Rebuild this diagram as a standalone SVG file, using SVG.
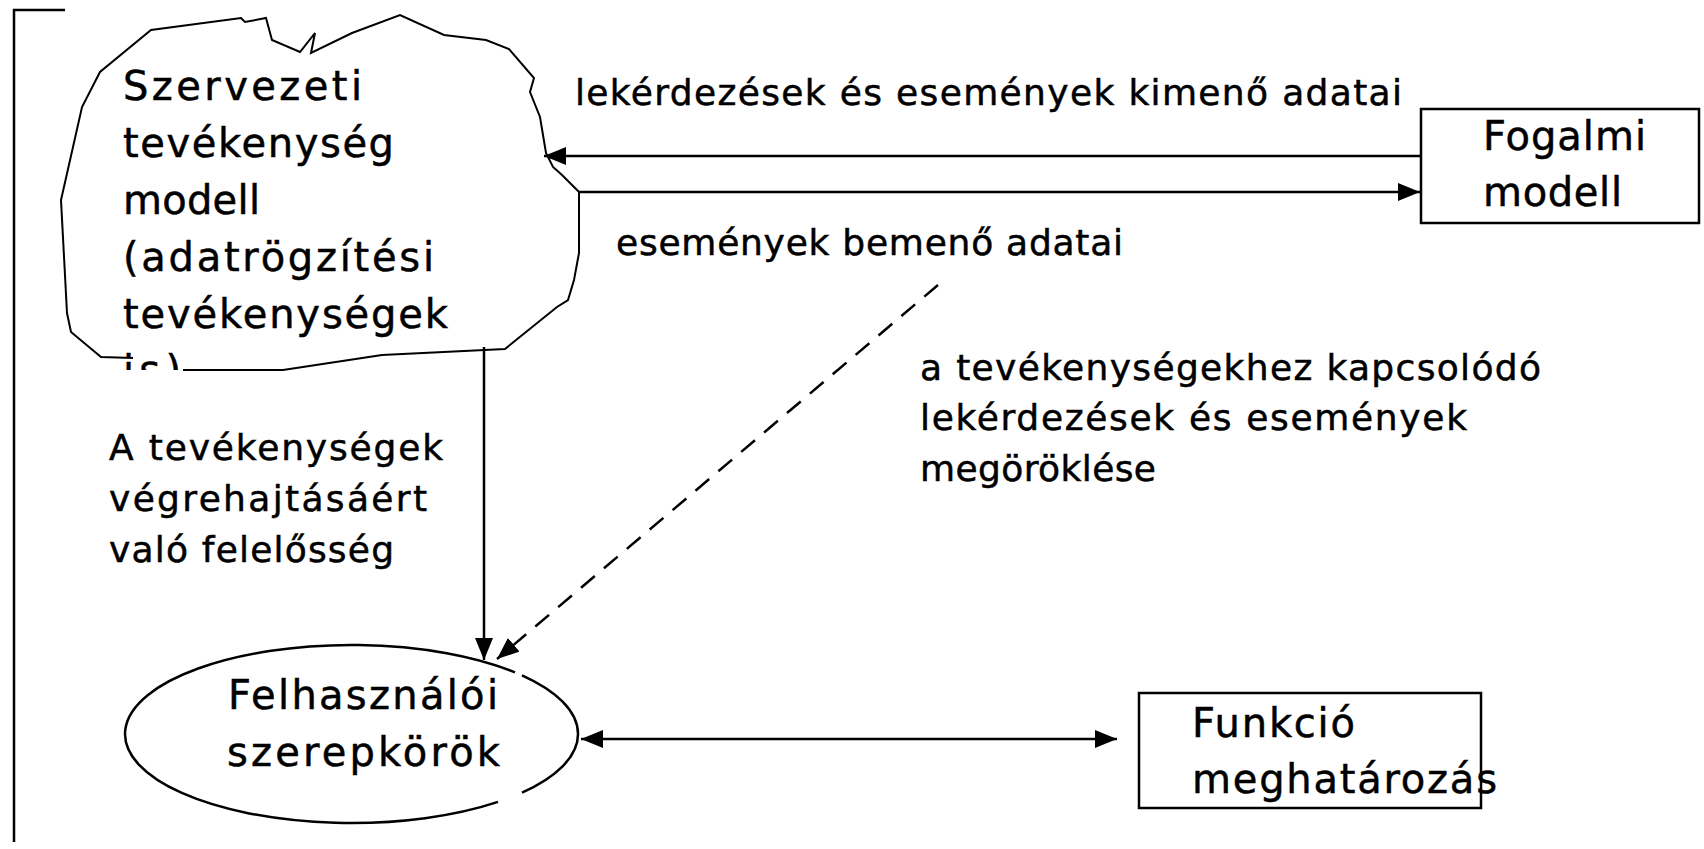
<svg xmlns="http://www.w3.org/2000/svg" width="1704" height="849" viewBox="0 0 1704 849">
<defs>
<style>
.ln{fill:none;stroke:#000;stroke-width:2.5}
.nd{font-family:"DejaVu Sans","Liberation Sans",sans-serif;font-size:40px;fill:#000;stroke:#000;stroke-width:0.5}
.lb{font-family:"DejaVu Sans","Liberation Sans",sans-serif;font-size:36px;fill:#000;stroke:#000;stroke-width:0.5}
</style>
<marker id="ah" markerUnits="userSpaceOnUse" markerWidth="22" markerHeight="18" refX="22" refY="9" orient="auto-start-reverse">
<path d="M0,0 L22,9 L0,18 z" fill="#000"/>
</marker>
<clipPath id="cut"><rect x="0" y="0" width="600" height="370"/></clipPath>
</defs>
<rect width="1704" height="849" fill="#fff"/>
<g id="frame">
<path class="ln" d="M14,842 L14,10 L65,10" stroke-width="2"/>
</g>
<g id="cloud">
<path d="M133,358 L101,357 L71,332 L67,313 L61,200 L73,147 L82,107 L100,72 L151,30 L241,18 L245,22 L266,18 L272,40 L300,52 L315,33 L311,53 L352,33 L400,15 L444,35 L486,40 L509,49 L534,78 L530,92 L540,117 L546,153 L553,167 L562,175 L579,192 L579,253 L574,280 L568,300 L557,307 L505,349 L382,355 L283,370 L183,370" fill="#fff" stroke="#000" stroke-width="2"/>
<text class="nd" x="123" y="100" textLength="239">Szervezeti</text>
<text class="nd" x="123" y="157" textLength="271">tevékenység</text>
<text class="nd" x="123" y="214" textLength="137">modell</text>
<text class="nd" x="123" y="271" textLength="311">(adatrögzítési</text>
<text class="nd" x="123" y="328" textLength="325">tevékenységek</text>
<text class="nd" x="123" y="384" textLength="58" clip-path="url(#cut)">is)</text>
</g>
<g id="fogalmi">
<rect x="1421" y="109" width="278" height="114" fill="#fff" stroke="#000" stroke-width="2.5"/>
<text class="nd" x="1483" y="150" textLength="163">Fogalmi</text>
<text class="nd" x="1483" y="206" textLength="139">modell</text>
</g>
<g id="szerepkorok">
<path d="M522,675.4 A226.5,89 0 0 1 522,792.6 M498,801.9 A226.5,89 0 1 1 515,672.4" fill="none" stroke="#000" stroke-width="2.5"/>
<text class="nd" x="228" y="709" textLength="270">Felhasználói</text>
<text class="nd" x="227" y="766" textLength="273">szerepkörök</text>
</g>
<g id="funkcio">
<rect x="1139" y="693" width="342" height="115" fill="#fff" stroke="#000" stroke-width="2.5"/>
<text class="nd" x="1192" y="737" textLength="163">Funkció</text>
<text class="nd" x="1192" y="793" textLength="305">meghatározás</text>
</g>
<g id="connectors">
<line class="ln" x1="1421" y1="156" x2="544" y2="156" marker-end="url(#ah)"/>
<line class="ln" x1="579" y1="192" x2="1420" y2="192" marker-end="url(#ah)"/>
<line class="ln" x1="484" y1="347" x2="484" y2="660" stroke-width="2" marker-end="url(#ah)"/>
<line class="ln" x1="938" y1="285" x2="497" y2="659" stroke-dasharray="18,12" marker-end="url(#ah)"/>
<line class="ln" x1="581" y1="739" x2="1117" y2="739" marker-start="url(#ah)" marker-end="url(#ah)"/>
</g>
<g id="labels">
<text class="lb" x="575" y="105" textLength="827">lekérdezések és események kimenő adatai</text>
<text class="lb" x="616" y="255" textLength="507">események bemenő adatai</text>
<text class="lb" x="920" y="380" textLength="621">a tevékenységekhez kapcsolódó</text>
<text class="lb" x="920" y="430" textLength="547">lekérdezések és események</text>
<text class="lb" x="920" y="481" textLength="236">megöröklése</text>
<text class="lb" x="109" y="460" textLength="334">A tevékenységek</text>
<text class="lb" x="109" y="511" textLength="318">végrehajtásáért</text>
<text class="lb" x="109" y="562" textLength="285">való felelősség</text>
</g>
</svg>
